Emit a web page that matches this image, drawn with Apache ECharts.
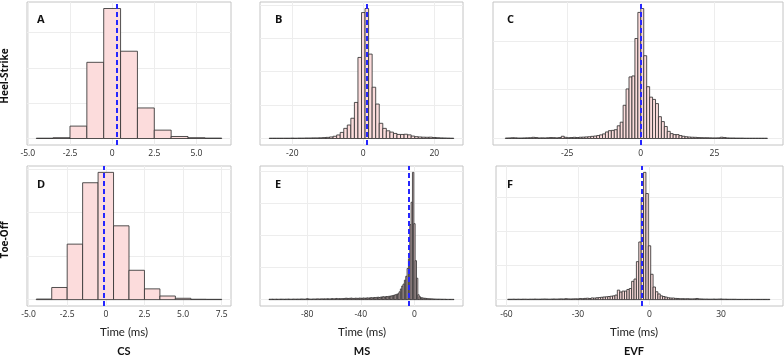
<!DOCTYPE html>
<html><head><meta charset="utf-8">
<script src="https://cdn.jsdelivr.net/npm/echarts@6/dist/echarts.min.js"></script>
<style>html,body{margin:0;padding:0;background:#fff}#c{width:784px;height:355px}</style>
</head><body><div id="c"></div>
<script>
// ---------- data ----------
const panelLetters = ['A', 'B', 'C', 'D', 'E', 'F'];
const rowLabels = ['Heel-Strike', 'Toe-Off'];
const colLabels = ['CS', 'MS', 'EVF'];
const xTitle = 'Time (ms)';

// first bin centre of each histogram (bin width 1 ms)
const binStarts = [-4, -26, -45.5, -4, -108, -59];

// bar heights (relative counts)
const csHeel = [0.3, 0.8, 12.3, 75.6, 129, 86.6, 30.3, 8.3, 2.0, 0.8, 0.4];
const msHeel = [
  0.3, 0.3, 0.3, 0.3, 0.3, 0.3, 0.4, 0.3, 0.4, 0.4,
  0.5, 0.5, 0.6, 0.6, 0.7, 0.9, 1.1, 1.5, 2.2, 3.5,
  6.0, 10.0, 13.3, 20.0, 35.6, 80.0, 124.3, 128.3, 83.3, 50.6,
  34.0, 15.0, 10.0, 7.6, 6.3, 5.0, 4.0, 4.0, 4.2, 3.6,
  2.4, 1.8, 1.5, 1.3, 1.2, 1.3, 1.0, 0.8, 0.6, 0.5,
  0.4, 0.3];
const evfHeel = [
  0.5, 0.6, 0.8, 0.7, 0.5, 0.5, 0.6, 0.7, 0.8, 1.2,
  1.0, 0.6, 0.7, 0.6, 0.8, 1.0, 0.9, 0.7, 1.0, 2.3,
  1.2, 0.8, 1.0, 1.2, 1.0, 1.3, 1.4, 1.6, 1.8, 2.2,
  2.5, 3.0, 3.7, 4.7, 6.7, 8.0, 8.3, 9.0, 13.0, 16.7,
  34.0, 50.7, 63.0, 64.0, 102.3, 129.0, 133.0, 84.7, 53.0, 42.3,
  40.0, 35.7, 22.3, 17.3, 12.3, 7.3, 5.0, 4.0, 4.0, 3.0,
  2.3, 1.8, 1.5, 1.3, 1.2, 1.0, 0.9, 0.8, 0.8, 0.7,
  0.6, 0.6, 0.7, 1.3, 1.0, 0.6, 0.5, 0.5, 0.4, 0.4,
  0.4, 0.3, 0.3, 0.3, 0.3, 0.3, 0.3, 0.3, 0.3];
const csToe = [0.6, 12.4, 56.7, 119.4, 130, 75.4, 30.0, 11.0, 3.7, 1.4, 0.4, 0.3];
const msToe = [
  0.4, 0.4, 0.5, 0.4, 0.4, 0.5, 0.4, 0.4, 0.5, 0.5,
  0.5, 0.4, 0.5, 0.5, 0.6, 0.5, 0.4, 0.5, 0.6, 0.5,
  0.5, 0.6, 0.5, 0.6, 0.7, 0.6, 0.5, 0.6, 1.0, 0.7,
  0.6, 0.5, 0.6, 0.7, 0.6, 0.7, 0.8, 0.6, 0.7, 0.8,
  0.7, 0.8, 0.7, 0.9, 0.8, 0.7, 0.9, 1.0, 0.8, 0.9,
  1.2, 0.9, 1.0, 0.9, 1.1, 1.0, 1.2, 1.5, 1.3, 1.2,
  1.4, 1.6, 1.3, 1.2, 1.5, 1.4, 1.3, 1.6, 1.5, 1.4,
  1.7, 1.5, 1.6, 1.8, 1.6, 1.9, 2.0, 1.8, 2.2, 2.0,
  2.3, 2.5, 2.2, 2.6, 2.8, 3.0, 2.7, 3.2, 3.0, 3.4,
  3.6, 3.8, 4.2, 4.6, 5.0, 5.5, 6.0, 8.0, 11.0, 14.0,
  16.0, 20.0, 24.0, 32.0, 42.0, 77.0, 100.0, 130.7, 78.0, 40.0,
  22.0, 5.0, 3.0, 2.0, 1.8, 1.5, 1.4, 1.2, 1.0, 0.9,
  0.8, 0.8, 0.7, 0.6, 0.6, 0.5, 0.5, 0.5, 0.4, 0.4,
  0.4, 0.4, 0.3, 0.3, 0.3, 0.3, 0.3, 0.3];
const evfToe = [
  0.4, 0.4, 0.5, 0.4, 0.5, 0.4, 0.5, 0.5, 0.4, 0.5,
  0.5, 0.6, 0.5, 0.5, 0.6, 0.7, 0.6, 0.5, 0.6, 0.7,
  0.6, 0.7, 0.8, 0.7, 1.0, 0.8, 0.7, 0.8, 0.9, 0.8,
  1.2, 1.0, 1.3, 1.5, 1.2, 1.8, 1.6, 2.0, 2.2, 2.5,
  2.8, 3.0, 3.3, 3.6, 4.0, 4.8, 10.0, 8.0, 9.0, 9.0,
  10.7, 11.7, 19.3, 21.7, 40.0, 60.7, 106.7, 134.0, 111.7, 56.7,
  26.7, 13.3, 8.3, 6.0, 4.0, 3.3, 2.7, 2.0, 1.7, 1.7,
  1.3, 1.2, 1.0, 1.0, 0.9, 1.0, 0.8, 0.8, 0.9, 1.2,
  0.8, 0.7, 0.6, 0.6, 0.5, 0.5, 0.6, 0.5, 0.6, 0.7,
  0.5, 0.5, 0.4, 0.4, 0.4, 0.4, 0.3, 0.3, 0.3, 0.3,
  0.3, 0.3, 0.3, 0.3, 0.3, 0.3, 0.3, 0.3, 0.3, 0.3];

// median (dashed line) per panel, ms
const medians = [0.3, 1.1, 0.0, -0.15, -4.5, -3.2];

// x tick labels per panel
const xTicks = [
  [-5, -2.5, 0, 2.5, 5],
  [-20, 0, 20],
  [-25, 0, 25],
  [-5, -2.5, 0, 2.5, 5, 7.5],
  [-80, -40, 0],
  [-60, -30, 0, 30]
];
const xTickLabels = [
  ['-5.0', '-2.5', '0', '2.5', '5.0'],
  ['-20', '0', '20'],
  ['-25', '0', '25'],
  ['-5.0', '-2.5', '0', '2.5', '5.0', '7.5'],
  ['-80', '-40', '0'],
  ['-60', '-30', '0', '30']
];

// ---------- layout / style ----------
const counts = [csHeel, msHeel, evfHeel, csToe, msToe, evfToe];
const xRanges = [[-5.05, 7.05], [-29.1, 28.1], [-50.2, 48.3], [-5.1, 8.1], [-115.2, 36.2], [-64.4, 56]];
const yGridStep = [35, 33, 50, 44.5, 33, 36];
const boxes = [
  {left: 27, top: 2, width: 204, height: 143},
  {left: 260, top: 2, width: 203, height: 143},
  {left: 493, top: 2, width: 290, height: 143},
  {left: 27, top: 166, width: 204, height: 140},
  {left: 260, top: 166, width: 203, height: 140},
  {left: 496, top: 166, width: 287, height: 140}
];

const FILL = '#fcdcdc', STROKE = '#333333', GRIDC = '#ededed';

const grids = [], xAxes = [], yAxes = [], series = [];
counts.forEach((arr, i) => {
  const b = boxes[i];
  grids.push({left: b.left, top: b.top, width: b.width, height: b.height,
    show: true, borderColor: '#c4c4c4', borderWidth: 1, backgroundColor: '#fff'});
  const ticks = xTicks[i], labels = xTickLabels[i];
  xAxes.push({type: 'value', gridIndex: i, min: xRanges[i][0], max: xRanges[i][1],
    axisLine: {show: false},
    axisTick: {show: false, customValues: ticks},
    axisLabel: {customValues: ticks, fontSize: 8.5, color: '#2b2b2b', margin: 4,
      fontFamily: 'Open Sans',
      formatter: v => { const k = ticks.findIndex(t => Math.abs(t - v) < 1e-6); return k >= 0 ? labels[k] : ''; }},
    splitLine: {show: true, lineStyle: {color: GRIDC, width: 1}}
  });
  const m = Math.max(...arr);
  const step = yGridStep[i];
  const yt = [];
  for (let v = 0; v <= m * 1.05; v += step) yt.push(v);
  yAxes.push({type: 'value', gridIndex: i, min: -0.05 * m, max: 1.05 * m,
    axisLine: {show: false}, axisLabel: {show: false},
    axisTick: {show: false, customValues: yt},
    splitLine: {show: true, lineStyle: {color: GRIDC, width: 1}}
  });
  const data = arr.map((c, j) => [binStarts[i] + j, c]);
  series.push({
    type: 'custom', xAxisIndex: i, yAxisIndex: i, clip: true, z: 2,
    encode: {x: 0, y: 1},
    data: data,
    renderItem: (params, api) => {
      const x = api.value(0), y = api.value(1);
      const a = api.coord([x - 0.5, y]);
      const c = api.coord([x + 0.5, 0]);
      return {type: 'rect', shape: {x: a[0], y: a[1], width: c[0] - a[0], height: c[1] - a[1]},
        style: {fill: FILL, stroke: STROKE, lineWidth: 0.85}};
    }
  });
  series.push({
    type: 'line', xAxisIndex: i, yAxisIndex: i, data: [], z: 5,
    markLine: {silent: true, symbol: 'none', label: {show: false},
      lineStyle: {color: '#2626ff', width: 2, type: [5, 3]},
      data: [{xAxis: medians[i]}]}
  });
});

const graphics = [];
const letterPos = [[37, 20], [275, 20], [507, 20], [37, 185], [275, 185], [507, 185]];
panelLetters.forEach((t, i) => graphics.push({type: 'text', x: letterPos[i][0], y: letterPos[i][1], z: 10,
  style: {text: t, font: 'bold 11px "Open Sans"', fill: '#111', align: 'left', verticalAlign: 'middle'}}));
const rowY = [76, 240];
rowLabels.forEach((t, i) => graphics.push({type: 'text', x: 5, y: rowY[i], rotation: Math.PI / 2, z: 10,
  style: {text: t, font: 'bold 10px "Open Sans"', fill: '#111', align: 'center', verticalAlign: 'middle'}}));
const colX = [124, 362, 634];
colX.forEach((x, i) => {
  graphics.push({type: 'text', x: x, y: 332, z: 10,
    style: {text: xTitle, font: '11.5px Lato', fill: '#222', align: 'center', verticalAlign: 'middle'}});
  graphics.push({type: 'text', x: x, y: 351, z: 10,
    style: {text: colLabels[i], font: 'bold 11px Lato', fill: '#111', align: 'center', verticalAlign: 'middle'}});
});

const chart = echarts.init(document.getElementById('c'), null, {renderer: 'canvas'});
chart.setOption({
  animation: false,
  backgroundColor: '#fff',
  grid: grids, xAxis: xAxes, yAxis: yAxes, series: series, graphic: graphics
});
</script></body></html>
